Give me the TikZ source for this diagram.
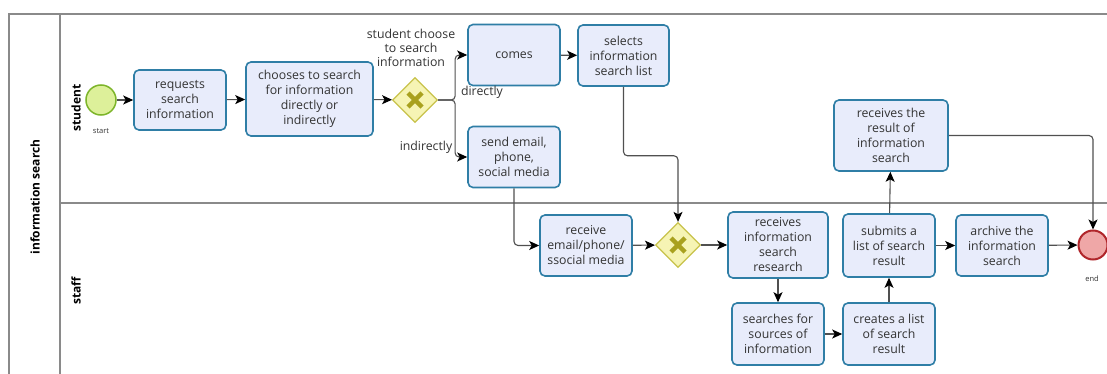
\documentclass[tikz,border=0pt]{standalone}
\usepackage{fontspec}
\setmainfont{Open Sans}
\usetikzlibrary{shapes.geometric,arrows.meta}
\definecolor{boxfill}{HTML}{E8ECFB}
\definecolor{boxline}{HTML}{2F7EA6}
\definecolor{startfill}{HTML}{DDF09A}
\definecolor{startline}{HTML}{7DB52A}
\definecolor{gwfill}{HTML}{F6F4B4}
\definecolor{gwline}{HTML}{C8C24A}
\definecolor{gwmark}{HTML}{A9A11F}
\definecolor{endfill}{HTML}{EFA7A7}
\definecolor{endline}{HTML}{B0262B}
\definecolor{laneline}{HTML}{8A8A8A}
\definecolor{flowline}{HTML}{505050}
\definecolor{txt}{HTML}{333333}
\tikzset{
  task/.style={draw=boxline, fill=boxfill, line width=1.6pt, rounded corners=5pt,
    align=center, text=txt, font=\fontsize{12.3}{15}\selectfont, inner sep=1pt},
  gateway/.style={diamond, draw=gwline, fill=gwfill, line width=1.3pt,
    minimum width=45pt, minimum height=45pt, inner sep=0pt},
  startev/.style={circle, draw=startline, fill=startfill, line width=1.5pt, minimum size=30pt, inner sep=0pt},
  endev/.style={circle, draw=endline, fill=endfill, line width=2pt, minimum size=29pt, inner sep=0pt},
  flow/.style={draw=flowline, line width=1.1pt, rounded corners=4pt,
    -{Stealth[length=10pt,width=9pt,inset=2.5pt,fill=black,color=black]}},
  lbl/.style={text=txt, font=\fontsize{12.3}{14}\selectfont, align=center, inner sep=0pt},
  small/.style={text=txt, font=\fontsize{7.5}{9}\selectfont, inner sep=0pt},
  lanelbl/.style={font=\bfseries\fontsize{12}{13}\selectfont, rotate=90, inner sep=0pt},
  lane/.style={draw=laneline, line width=1.2pt}
}
\newcommand{\gwx}[1]{%
  \draw[gwmark, line width=4.5pt] ([shift={(-7pt,-7pt)}]#1.center) -- ([shift={(7pt,7pt)}]#1.center);
  \draw[gwmark, line width=4.5pt] ([shift={(-7pt,7pt)}]#1.center) -- ([shift={(7pt,-7pt)}]#1.center);}
\begin{document}
\begin{tikzpicture}[x=1pt,y=-1pt]
\useasboundingbox (0,0) rectangle (1107,374);
\fill[white] (0,0) rectangle (1107,374);
% pool and lanes
\draw[lane] (1107,14) -- (9,14) -- (9,374);
\draw[lane] (60,14) -- (60,374);
\draw[lane] (60,203) -- (1107,203);
\node[lanelbl] (pool) at (35,197) {information search};
\node[lanelbl] (lstudent) at (76,108) {student};
\node[lanelbl] (lstaff) at (76,291) {staff};
% student lane
\node[startev] (start) at (101,100) {};
\node[small] (startl) at (101,131) {start};
\node[task, minimum width=92pt, minimum height=60pt] (req) at (180,100) {requests\\search\\information};
\node[task, minimum width=127pt, minimum height=74pt] (choose) at (309.5,99) {chooses to search\\for information\\directly or\\indirectly};
\node[gateway] (gw1) at (415,100) {};
\gwx{gw1}
\node[lbl] (gwl) at (411,48) {student choose\\to search\\information};
\node[task, minimum width=92pt, minimum height=61pt] (comes) at (514,55) {comes};
\node[task, minimum width=91pt, minimum height=61pt] (sel) at (623.5,55.5) {selects\\information\\search list};
\node[task, minimum width=92pt, minimum height=61pt] (send) at (514,157) {send email,\\phone,\\social media};
\node[lbl] (ldir) at (482,92) {directly};
\node[lbl] (lindir) at (426,147) {indirectly};
\node[task, minimum width=114pt, minimum height=71pt] (rres) at (891,135.5) {receives the\\result of\\information\\search};
% staff lane
\node[task, minimum width=92pt, minimum height=61pt] (recv) at (586,245.5) {receive\\email/phone/\\ssocial media};
\node[gateway] (gw2) at (678,245) {};
\gwx{gw2}
\node[task, minimum width=100pt, minimum height=66pt] (resr) at (778,245) {receives\\information\\search\\research};
\node[task, minimum width=92pt, minimum height=62pt] (srch) at (778,334) {searches for\\sources of\\information};
\node[task, minimum width=92pt, minimum height=62pt] (crt) at (889,334) {creates a list\\of search\\result};
\node[task, minimum width=92pt, minimum height=63pt] (sub) at (889,245.5) {submits a\\list of search\\result};
\node[task, minimum width=92pt, minimum height=61pt] (arch) at (1002,245.5) {archive the\\information\\search};
\node[endev] (end) at (1093,245) {};
\node[small] (endl) at (1092,279) {end};
% flows
\draw[flow] (start) -- (req);
\draw[flow] (req) -- (choose);
\draw[flow] (choose) -- (gw1);
\draw[flow] (gw1.east) -- ++(17,0) |- (comes.west);
\draw[flow] (gw1.east) -- ++(17,0) |- (send.west);
\draw[flow] (comes) -- (sel);
\draw[flow] (sel.south) -- ++(0,69) -| (gw2.north);
\draw[flow] (send.south) |- (recv.west);
\draw[flow] (recv) -- (gw2);
\draw[flow] (gw2) -- (resr);
\draw[flow] (resr) -- (srch);
\draw[flow] (srch) -- (crt);
\draw[flow] (crt) -- (sub);
\draw[flow] (sub) -- (rres);
\draw[flow] (sub) -- (arch);
\draw[flow] (arch) -- (end);
\draw[flow] (rres.east) -| (end.north);
\end{tikzpicture}
\end{document}
